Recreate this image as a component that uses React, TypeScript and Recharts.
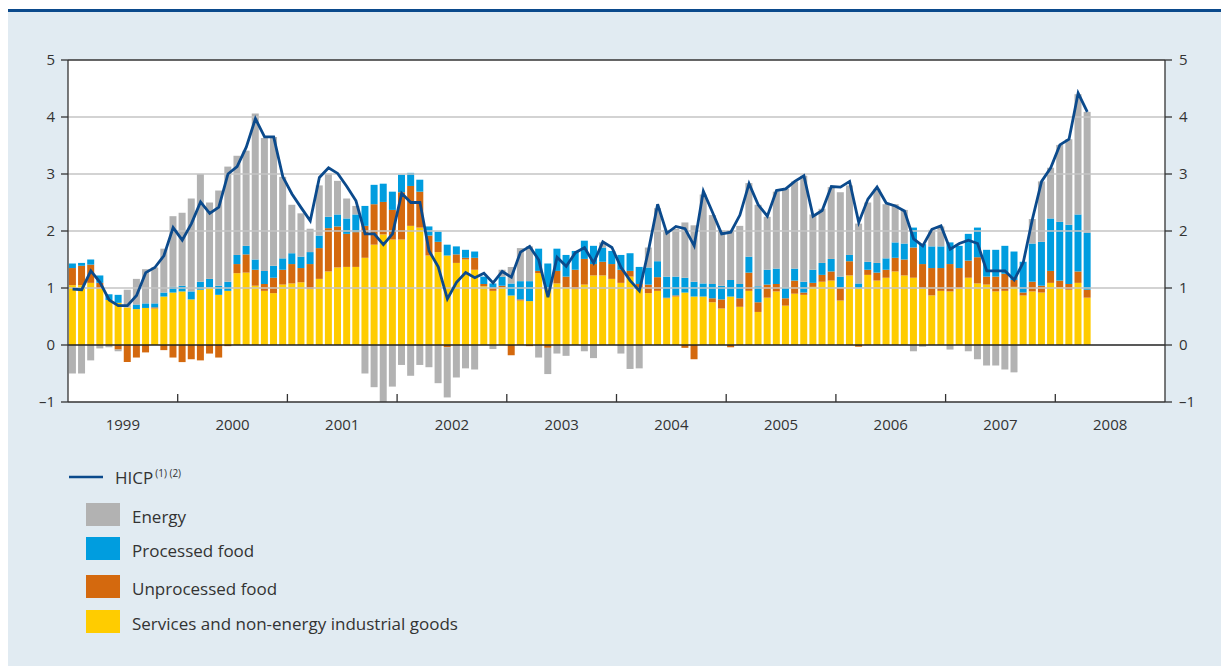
import React from "react";
import { Bar, CartesianGrid, ComposedChart, Line, ReferenceLine, XAxis, YAxis } from "recharts";

const years = ["1999", "2000", "2001", "2002", "2003", "2004", "2005", "2006", "2007", "2008"];

// monthly contributions, Jan 1999 – Apr 2008 (percentage points)
const services = [
  1.05, 1.05, 1.09, 0.99, 0.79, 0.74, 0.66, 0.63, 0.65, 0.64, 0.85, 0.92,
  0.94, 0.8, 0.97, 1.01, 0.88, 0.95, 1.26, 1.27, 1.04, 0.95, 0.91, 1.06,
  1.08, 1.1, 0.98, 1.16, 1.29, 1.36, 1.37, 1.37, 1.53, 1.76, 1.94, 1.85,
  1.85, 2.09, 2.06, 1.57, 1.63, 1.57, 1.44, 1.5, 1.32, 1.03, 0.95, 1.01,
  0.87, 0.78, 0.77, 1.26, 0.98, 1.08, 1.01, 0.98, 1.06, 1.22, 1.22, 1.16,
  1.09, 1.2, 1.0, 0.91, 0.95, 0.82, 0.85, 0.92, 0.85, 0.85, 0.75, 0.64,
  0.85, 0.67, 0.95, 0.58, 0.83, 0.94, 0.69, 0.9, 0.88, 1.02, 1.11, 1.13,
  0.78, 1.22, 0.99, 1.23, 1.13, 1.18, 1.29, 1.22, 1.18, 0.99, 0.87, 0.95,
  0.94, 0.99, 1.18, 1.08, 1.06, 0.94, 0.95, 1.02, 0.87, 0.94, 0.92, 1.09,
  1.01, 0.97, 1.09, 0.83,
];
const unprocessed = [
  0.3, 0.34, 0.32, 0.1, 0, -0.08, -0.3, -0.22, -0.13, 0.02, -0.09, -0.22,
  -0.3, -0.25, -0.27, -0.15, -0.22, -0.02, 0.16, 0.32, 0.28, 0.12, 0.27, 0.26,
  0.34, 0.25, 0.44, 0.54, 0.76, 0.72, 0.58, 0.61, 0.56, 0.71, 0.57, 0.52,
  0.83, 0.7, 0.63, 0.35, 0.18, -0.04, 0.15, 0.03, 0.21, 0.04, 0.05, 0.03,
  -0.18, 0.02, -0.02, 0.04, -0.05, 0.22, 0.19, 0.34, 0.45, 0.2, 0.24, 0.26,
  0.23, 0.1, 0.07, 0.15, 0.24, 0.01, 0.02, -0.05, -0.25, 0, 0.07, 0.16,
  -0.04, 0.15, 0.32, 0.17, 0.23, 0.13, 0.13, 0.23, 0.04, 0.07, 0.12, 0.16,
  0.23, 0.25, -0.03, 0.09, 0.14, 0.14, 0.24, 0.28, 0.53, 0.43, 0.48, 0.4,
  0.48, 0.36, 0.3, 0.46, 0.14, 0.26, 0.3, 0.12, 0.05, 0.17, 0.12, 0.21,
  0.12, 0.1, 0.2, 0.14,
];
const processed = [
  0.08, 0.05, 0.09, 0.13, 0.1, 0.14, 0, 0.08, 0.08, 0.07, 0.07, 0.1,
  0.1, 0.14, 0.14, 0.15, 0.16, 0.16, 0.16, 0.15, 0.18, 0.23, 0.21, 0.2,
  0.19, 0.2, 0.21, 0.22, 0.2, 0.21, 0.27, 0.31, 0.35, 0.34, 0.32, 0.32,
  0.31, 0.23, 0.21, 0.16, 0.18, 0.19, 0.14, 0.14, 0.11, 0.13, 0.08, 0.16,
  0.21, 0.32, 0.35, 0.39, 0.45, 0.39, 0.38, 0.33, 0.32, 0.32, 0.25, 0.23,
  0.26, 0.31, 0.3, 0.3, 0.28, 0.37, 0.33, 0.26, 0.26, 0.23, 0.25, 0.24,
  0.29, 0.25, 0.28, 0.28, 0.26, 0.27, 0.19, 0.21, 0.19, 0.23, 0.21, 0.22,
  0.19, 0.11, 0.09, 0.14, 0.17, 0.2, 0.27, 0.28, 0.35, 0.35, 0.38, 0.38,
  0.38, 0.39, 0.47, 0.52, 0.47, 0.47, 0.49, 0.5, 0.54, 0.67, 0.77, 0.92,
  1.03, 1.04, 1.0, 1.0,
];
const energy = [
  -0.5, -0.5, -0.27, -0.06, -0.04, -0.03, 0.31, 0.45, 0.6, 0.63, 0.77, 1.24,
  1.28, 1.63, 1.89, 1.34, 1.67, 2.02, 1.74, 1.67, 2.56, 2.33, 2.26, 1.43,
  0.85, 0.76, 0.41, 0.88, 0.76, 0.59, 0.35, 0.15, -0.5, -0.74, -1.0, -0.73,
  -0.35, -0.54, -0.35, -0.39, -0.67, -0.88, -0.57, -0.41, -0.43, 0, -0.07, 0.12,
  0.29, 0.58, 0.61, -0.22, -0.46, -0.15, -0.19, 0, -0.11, -0.23, 0.09, 0,
  -0.15, -0.42, -0.41, 0.35, 0.93, 0.82, 0.84, 0.97, 0.99, 1.56, 1.21, 0.97,
  0.87, 1.02, 1.29, 1.43, 0.93, 1.35, 1.73, 1.53, 1.86, 0.97, 0.95, 1.26,
  1.48, 1.22, 1.05, 1.04, 1.3, 0.95, 0.67, 0.59, -0.11, -0.03, 0.29, 0.35,
  -0.08, 0, -0.11, -0.25, -0.36, -0.36, -0.43, -0.48, 0, 0.43, 1.06, 0.89,
  1.35, 1.5, 2.11, 2.12,
];
const hicp = [
  0.98, 0.97, 1.3, 1.1, 0.79, 0.69, 0.69, 0.87, 1.27, 1.36, 1.57, 2.06,
  1.84, 2.13, 2.51, 2.31, 2.42, 3.0, 3.13, 3.47, 3.97, 3.65, 3.65, 2.95,
  2.65, 2.41, 2.18, 2.94, 3.11, 3.01, 2.78, 2.53, 1.95, 1.95, 1.76, 1.95,
  2.66, 2.5, 2.5, 1.65, 1.37, 0.81, 1.1, 1.27, 1.18, 1.26, 1.09, 1.29,
  1.19, 1.63, 1.73, 1.49, 0.84, 1.54, 1.38, 1.62, 1.71, 1.44, 1.81, 1.71,
  1.36, 1.13, 0.95, 1.66, 2.47, 1.96, 2.08, 2.04, 1.74, 2.7, 2.33, 1.95,
  1.98, 2.28, 2.83, 2.46, 2.26, 2.71, 2.74, 2.87, 2.97, 2.26, 2.36, 2.78,
  2.77, 2.87, 2.15, 2.56, 2.77, 2.49, 2.44, 2.35, 1.86, 1.74, 2.03, 2.09,
  1.68, 1.78, 1.84, 1.78, 1.3, 1.3, 1.3, 1.14, 1.45, 2.21, 2.87, 3.11,
  3.51, 3.61, 4.42, 4.09,
];
const yTicks = [-1, 0, 1, 2, 3, 4, 5];
const gridValues = [1, 2, 3, 4];

const MONTHS = years.length * 12; // axis runs to Dec 2008, data stops in Apr
const rows = Array.from({ length: MONTHS }, (_, i) => ({
  m: i,
  services: services[i],
  unprocessed: unprocessed[i],
  processed: processed[i],
  energy: energy[i],
  hicp: hicp[i],
}));

const FONT = "'Open Sans', 'Noto Sans', sans-serif";
const INK = "#333";
const C = {
  energy: "#b2b2b2",
  processed: "#009ddf",
  unprocessed: "#d4690e",
  services: "#ffcc00",
  hicp: "#0b4a8c",
};
const PLOT_L = 68;
const PLOT_R = 1165;
const BAND = (PLOT_R - PLOT_L) / MONTHS;

function YearTick(props: any) {
  const { x, y, payload } = props;
  const i = Number(payload.value);
  const left = x - BAND / 2;
  if (i % 12 === 0 && i > 0) {
    return <line x1={left} x2={left} y1={y} y2={y - 8} stroke={INK} strokeWidth={1.3} />;
  }
  if (i % 12 === 6) {
    return (
      <text x={left} y={y + 28} textAnchor="middle" fill={INK} fontSize={15} fontFamily={FONT}>
        {years[Math.floor(i / 12)]}
      </text>
    );
  }
  return <g />;
}

const fmt = (v: number) => (v < 0 ? "\u2013" + Math.abs(v) : String(v));

const legendItems = [
  { label: "Energy", color: C.energy, y: 503 },
  { label: "Processed food", color: C.processed, y: 537 },
  { label: "Unprocessed food", color: C.unprocessed, y: 575 },
  { label: "Services and non-energy industrial goods", color: C.services, y: 610 },
];

export default function App() {
  const tick = { fill: INK, fontSize: 15, fontFamily: FONT };
  return (
    <div style={{ position: "absolute", left: 0, top: 0, width: 1221, height: 666, background: "#fff", overflow: "hidden" }}>
      <div style={{ position: "absolute", left: 8, top: 9, right: 0, height: 3, background: C.hicp }} />
      <div style={{ position: "absolute", left: 8, top: 12, right: 0, bottom: 0, background: "#e1ebf2" }} />
      <div style={{ position: "absolute", left: 0, top: 0 }}>
        <ComposedChart
          width={1221}
          height={440}
          data={rows}
          stackOffset="sign"
          barCategoryGap="10%"
          margin={{ top: 60, right: 0, bottom: 8, left: 0 }}
        >
          <CartesianGrid horizontal={false} vertical={false} fill="#fff" fillOpacity={1} />
          <XAxis
            dataKey="m"
            type="category"
            interval={0}
            height={30}
            tickSize={0}
            tickMargin={0}
            tickLine={false}
            axisLine={{ stroke: INK, strokeWidth: 1.3 }}
            tick={<YearTick />}
          />
          <YAxis
            domain={[-1, 5]}
            ticks={yTicks}
            width={PLOT_L}
            tickSize={7}
            tickMargin={6}
            tickFormatter={fmt}
            axisLine={{ stroke: INK, strokeWidth: 1.3 }}
            tickLine={{ stroke: INK, strokeWidth: 1.3 }}
            tick={tick}
          />
          <YAxis
            yAxisId="r"
            orientation="right"
            domain={[-1, 5]}
            ticks={yTicks}
            width={1221 - PLOT_R}
            tickSize={7}
            tickMargin={7}
            tickFormatter={fmt}
            axisLine={{ stroke: INK, strokeWidth: 1.3 }}
            tickLine={{ stroke: INK, strokeWidth: 1.3 }}
            tick={tick}
          />
          <Bar dataKey="services" stackId="c" fill={C.services} isAnimationActive={false} />
          <Bar dataKey="unprocessed" stackId="c" fill={C.unprocessed} isAnimationActive={false} />
          <Bar dataKey="processed" stackId="c" fill={C.processed} isAnimationActive={false} />
          <Bar dataKey="energy" stackId="c" fill={C.energy} isAnimationActive={false} />
          {gridValues.map((v) => (
            <ReferenceLine key={v} y={v} stroke="#c4c4c4" strokeWidth={1.4} />
          ))}
          <ReferenceLine y={0} stroke="#222" strokeWidth={1.3} />
          <ReferenceLine y={5} stroke={INK} strokeWidth={1.3} />
          <Line
            yAxisId="r"
            dataKey="hicp"
            stroke={C.hicp}
            strokeWidth={2.8}
            dot={false}
            activeDot={false}
            isAnimationActive={false}
          />
        </ComposedChart>
      </div>
      <svg width={1221} height={666} style={{ position: "absolute", left: 0, top: 0, pointerEvents: "none" }}>
        <line x1={69} x2={103} y1={477} y2={477} stroke={C.hicp} strokeWidth={2.6} />
        <text x={115} y={484} fill={INK} fontSize={17} fontFamily={FONT}>
          HICP
          <tspan fontSize={10} dy={-7} dx={2}>(1) (2)</tspan>
        </text>
        {legendItems.map((it) => (
          <g key={it.label}>
            <rect x={86} y={it.y} width={34} height={23} fill={it.color} />
            <text x={132} y={it.y + 20} fill={INK} fontSize={17} fontFamily={FONT}>
              {it.label}
            </text>
          </g>
        ))}
      </svg>
    </div>
  );
}
